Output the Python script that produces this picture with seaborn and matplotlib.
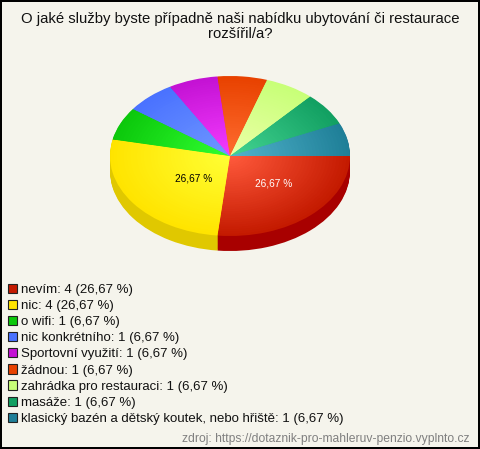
import matplotlib
matplotlib.use("Agg")
import matplotlib.pyplot as plt
import matplotlib.colors as mcolors
from matplotlib.patches import Patch
import numpy as np
import seaborn as sns

# data
title = "O jaké služby byste případně naši nabídku ubytování či restaurace\nrozšířil/a?"
source = "zdroj: https://dotaznik-pro-mahleruv-penzio.vyplnto.cz"
categories = ["nevím", "nic", "o wifi", "nic konkrétního", "Sportovní využití", "žádnou",
              "zahrádka pro restauraci", "masáže",
              "klasický bazén a dětský koutek, nebo hřiště"]
counts = [4, 4, 1, 1, 1, 1, 1, 1, 1]

# colours
edge_colors = ["#c41a00", "#ffe400", "#0cc80c", "#4a72ff", "#c412d4", "#e84200", "#c8ff78", "#12a062", "#1f7f98"]
center_colors = ["#ff5a3c", "#ffff34", "#30ff30", "#7098ff", "#f43cff", "#ff6c30", "#ecffa8", "#44d492", "#52b4cc"]
side_colors = ["#a80000", "#e0c800", "#0a9a0a", "#3050c0", "#900ca0", "#b03000", "#98c050", "#0c7848", "#145f78"]
bg = "#f5f4ec"

sns.set_theme(style="white", rc={"figure.facecolor": bg, "axes.facecolor": bg})
plt.rcParams["font.family"] = ["Liberation Sans", "DejaVu Sans"]

fig = plt.figure(figsize=(4.8, 4.49), dpi=100)
fig.patch.set_edgecolor("black")
fig.patch.set_linewidth(1.5)
ax = fig.add_axes([0, 0, 1, 1])
ax.patch.set_alpha(0)

depth = 15 / 80
pie_args = dict(startangle=0, counterclock=False, wedgeprops={"linewidth": 0})

# side of the 3d pie: same pie stacked downwards
for d in np.linspace(depth, 0.01, 16):
    ax.pie(counts, colors=side_colors, center=(0, -d), radius=1, **pie_args)

# top of the pie, radial gradient from nested pies
steps = 36
for i in range(steps):
    t = i / (steps - 1)
    r = 1 - t * 0.98
    cols = [tuple((1 - t) * np.array(mcolors.to_rgb(e)) + t * np.array(mcolors.to_rgb(c)))
            for e, c in zip(edge_colors, center_colors)]
    ax.pie(counts, colors=cols, radius=r, **pie_args)

# only the big slices get a label
total = sum(counts)
labels_pct = [f"{100 * n / total:.2f} %".replace(".", ",") if n > 1 else "" for n in counts]
_, _, auto = ax.pie(counts, colors=["none"] * len(counts), autopct="%.0f", pctdistance=0.47, **pie_args)
shifts = [6 / 120, 9 / 120] + [0] * 7
for txt, lab, col, dx in zip(auto, labels_pct, ["white", "black"] + ["black"] * 7, shifts):
    txt.set_text(lab)
    txt.set_color(col)
    txt.set_fontsize(7.3)
    txt.set_x(txt.get_position()[0] + dx)

ax.set_aspect("auto")
ax.set_xlim(-230 / 120, 250 / 120)
ax.set_ylim((156 - 449) / 80, 156 / 80)
ax.axis("off")

fig.text(0.5, 1 - 26.5 / 449, title, ha="center", va="center", fontsize=10.7, color="#111111", linespacing=1.05)
fig.text(1 - 10 / 480, 1 - 439 / 449, source, ha="right", va="center", fontsize=8.75, color="#808080")

handles = [Patch(facecolor=c, edgecolor="#222222", linewidth=0.8) for c in edge_colors]
legend_labels = [f"{c}: {n} ({100 * n / total:.2f} %)".replace(".", ",") for c, n in zip(categories, counts)]
fig.legend(handles, legend_labels, loc="lower left", bbox_to_anchor=(8 / 480, 1 - 425 / 449),
           frameon=False, fontsize=9.55, labelspacing=0.29, handlelength=0.7, handleheight=0.7,
           handletextpad=0.3, borderpad=0, borderaxespad=0, labelcolor="#111111")

fig.savefig("out.png", dpi=100)
